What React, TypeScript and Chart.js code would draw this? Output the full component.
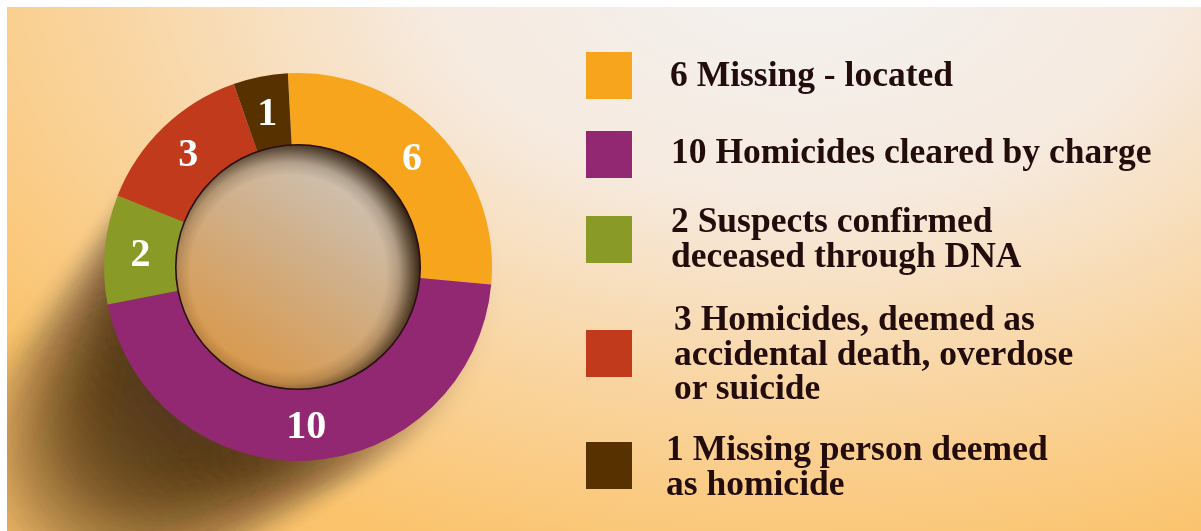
import React, { useEffect, useRef } from "react";
import { Chart, registerables } from "chart.js";

Chart.register(...registerables);

// ---- data ----
const categories = [
  "Missing - located",
  "Homicides cleared by charge",
  "Suspects confirmed deceased through DNA",
  "Homicides, deemed as accidental death, overdose or suicide",
  "Missing person deemed as homicide",
];
const counts = [6, 10, 2, 3, 1];
const colors = ["#F8A51E", "#922872", "#8A9A27", "#C13A1B", "#583100"];
const legendLines = [
  ["6 Missing - located"],
  ["10 Homicides cleared by charge"],
  ["2 Suspects confirmed", "deceased through DNA"],
  ["3 Homicides, deemed as", "accidental death, overdose", "or suicide"],
  ["1 Missing person deemed", "as homicide"],
];

// legend layout (page pixels)
const legendSquareTops = [52, 131, 216, 330, 442];
const legendTextTops = [57, 134, 203, 301, 431];
const legendTextLefts = [670, 671, 671, 674, 666];

const SERIF = '"Liberation Serif", "Times New Roman", serif';

const shadowPlugin = {
  id: "castShadow",
  beforeDatasetsDraw(chart: any) {
    const arc = chart.getDatasetMeta(0).data[0] as any;
    if (!arc) return;
    const { x, y, outerRadius: R } = arc;
    const ctx = chart.ctx as CanvasRenderingContext2D;
    ctx.save();
    const OFF = 6000;
    const steps = 22;
    for (let k = 0; k < steps; k++) {
      const t = k / (steps - 1);
      ctx.shadowColor = "rgba(62,46,24,0.095)";
      ctx.shadowBlur = 28 + 55 * t;
      ctx.shadowOffsetX = OFF - 4 - 200 * t;
      ctx.shadowOffsetY = 24 + 185 * t;
      ctx.beginPath();
      ctx.arc(x - OFF, y, R * (0.95 - 0.42 * t), 0, Math.PI * 2);
      ctx.fillStyle = "#000";
      ctx.fill();
    }
    ctx.restore();
  },
  afterDatasetsDraw(chart: any) {
    const meta = chart.getDatasetMeta(0);
    const arc = meta.data[0] as any;
    if (!arc) return;
    const { x, y, innerRadius: r } = arc;
    const ctx = chart.ctx as CanvasRenderingContext2D;
    ctx.save();
    // inner disc
    ctx.beginPath();
    ctx.arc(x, y, r, 0, Math.PI * 2);
    const lg = ctx.createLinearGradient(x + r * 0.55, y - r * 0.85, x - r * 0.55, y + r * 0.85);
    lg.addColorStop(0, "#cec5bb");
    lg.addColorStop(0.45, "#d0af88");
    lg.addColorStop(1, "#d9984a");
    ctx.fillStyle = lg;
    ctx.fill();
    const cx = x - r * 0.08;
    const cy = y + r * 0.05;
    const rg = ctx.createRadialGradient(cx, cy, r * 0.8, cx, cy, r * 1.09);
    rg.addColorStop(0, "rgba(60,40,20,0)");
    rg.addColorStop(0.35, "rgba(60,40,20,0.2)");
    rg.addColorStop(0.7, "rgba(55,35,15,0.65)");
    rg.addColorStop(1, "rgba(40,24,8,0.95)");
    ctx.fillStyle = rg;
    ctx.fill();
    ctx.lineWidth = 1.6;
    ctx.strokeStyle = "#2a0f14";
    ctx.stroke();
    ctx.restore();

    // value labels
    ctx.save();
    ctx.fillStyle = "#ffffff";
    ctx.font = `bold 40px ${SERIF}`;
    ctx.textAlign = "center";
    ctx.textBaseline = "alphabetic";
    meta.data.forEach((el: any, i: number) => {
      const p = el.getCenterPoint();
      ctx.fillText(String(counts[i]), p.x, p.y + 13);
    });
    ctx.restore();
  },
};

export default function App() {
  const canvasRef = useRef<HTMLCanvasElement | null>(null);

  useEffect(() => {
    if (!canvasRef.current) return;
    const chart = new Chart(canvasRef.current, {
      type: "doughnut",
      data: {
        labels: categories,
        datasets: [
          {
            data: counts,
            backgroundColor: colors,
            borderWidth: 0,
          },
        ],
      },
      options: {
        responsive: false,
        animation: false,
        rotation: -3,
        cutout: "63%",
        layout: { padding: { left: 97, right: 97, top: 66, bottom: 70 } },
        plugins: {
          legend: { display: false },
          tooltip: { enabled: false },
        },
      },
      plugins: [shadowPlugin],
    });
    return () => chart.destroy();
  }, []);

  return (
    <div
      style={{
        position: "fixed",
        left: 0,
        top: 0,
        width: 1201,
        height: 531,
        background: "#ffffff",
        overflow: "hidden",
      }}
    >
      <div
        style={{
          position: "absolute",
          left: 7,
          top: 7,
          width: 1194,
          height: 524,
          background:
            "radial-gradient(ellipse 1000px 625px at 793px -47px, #f3f2f1 0%, #f6eadf 38%, #f9d6a4 68%, #fbc36c 100%)",
        }}
      />
      <canvas
        ref={canvasRef}
        width={582}
        height={524}
        style={{ position: "absolute", left: 7, top: 7, width: 582, height: 524 }}
      />
      {legendLines.map((lines, i) => (
        <React.Fragment key={i}>
          <div
            style={{
              position: "absolute",
              left: 586,
              top: legendSquareTops[i],
              width: 46,
              height: 47,
              background: colors[i],
            }}
          />
          <div
            style={{
              position: "absolute",
              left: legendTextLefts[i],
              top: legendTextTops[i],
              fontFamily: SERIF,
              fontWeight: "bold",
              fontSize: 35.5,
              lineHeight: "34.5px",
              color: "#220c0c",
              whiteSpace: "pre",
            }}
          >
            {lines.join("\n")}
          </div>
        </React.Fragment>
      ))}
    </div>
  );
}
